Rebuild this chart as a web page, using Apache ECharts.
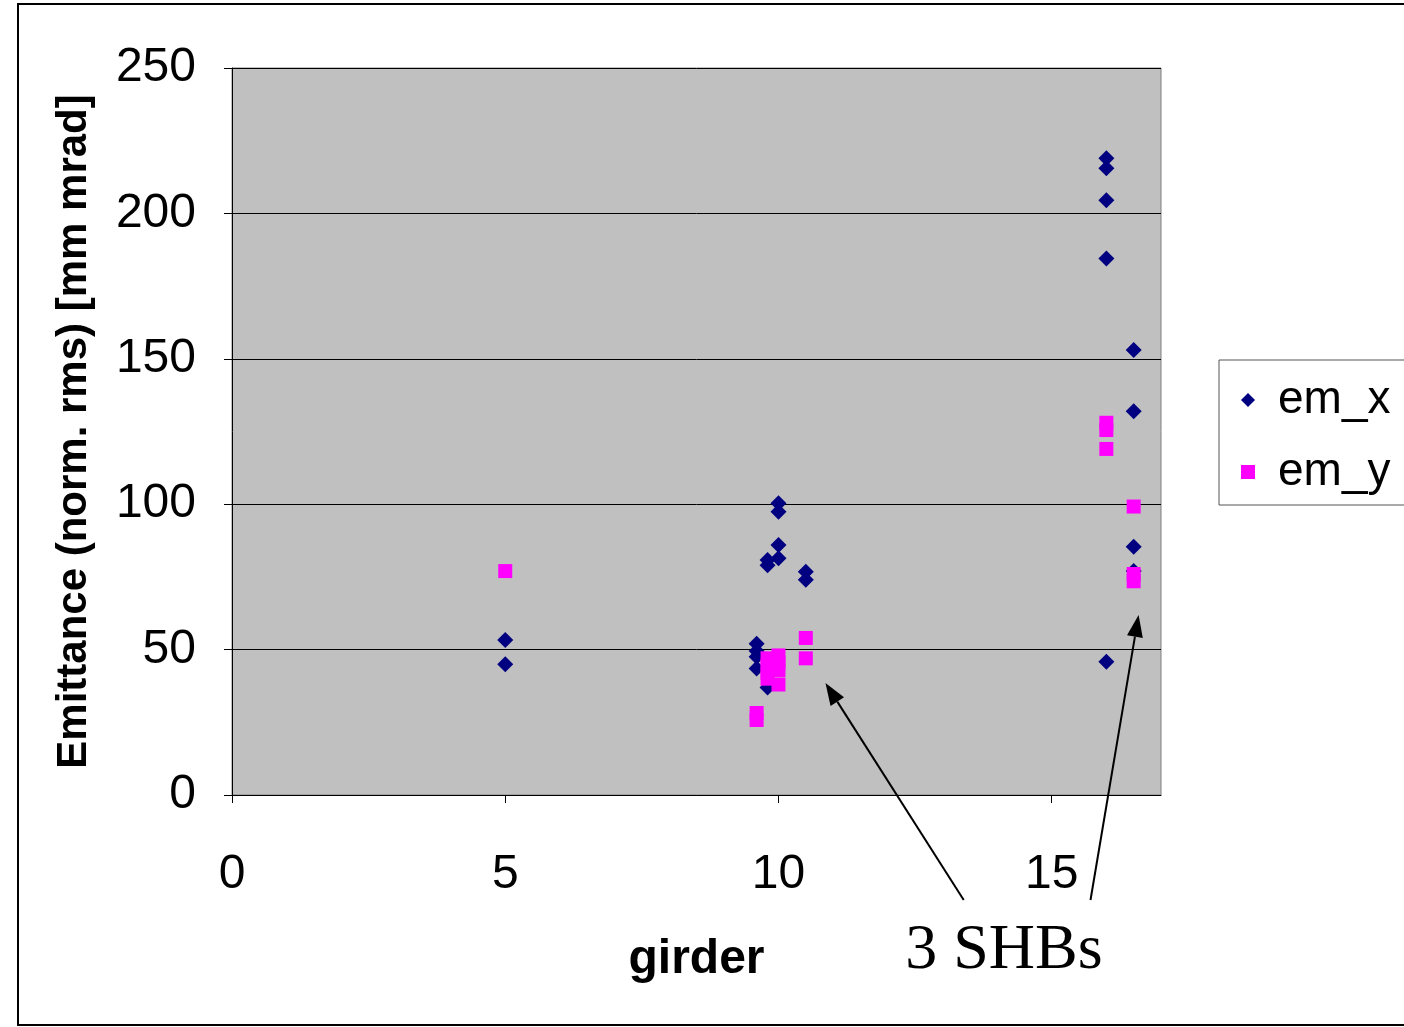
<!DOCTYPE html>
<html>
<head>
<meta charset="utf-8">
<script src="https://cdn.jsdelivr.net/npm/echarts@6/dist/echarts.min.js"></script>
<style>
html,body{margin:0;padding:0;background:#fff;}
#c{width:1404px;height:1027px;}
</style>
</head>
<body>
<div id="c"></div>
<script>
// Data
const emX = [
  [5, 53.3], [5, 45],
  [9.6, 52], [9.6, 49.5], [9.6, 47.5], [9.6, 43.5], [9.8, 37], [9.8, 80.8], [9.8, 79],
  [10, 100.3], [10, 97.4], [10, 86], [10, 81.4],
  [10.5, 76.8], [10.5, 74],
  [16, 219], [16, 215.5], [16, 204.5], [16, 184.5], [16, 45.8],
  [16.5, 153], [16.5, 132], [16.5, 85.4], [16.5, 77]
];
const emY = [
  [5, 77],
  [9.6, 28.2], [9.6, 25.8],
  [9.8, 47], [9.8, 44.5], [9.8, 42], [9.8, 40],
  [10, 48], [10, 45.5], [10, 43], [10, 38],
  [10.5, 54], [10.5, 47],
  [16, 128], [16, 125.5], [16, 119],
  [16.5, 99.2], [16.5, 76], [16.5, 73.5]
];
const xTickValues = [0, 5, 10, 15];
const xRange = {min: 0, max: 17, interval: 5};
const yRange = {min: 0, max: 250, interval: 50};
const annotationText = '3 SHBs';
// Arrow annotations in data coordinates: [start, tip]
const arrows = [
  [[13.39, -36.1], [10.86, 38.5]],
  [[15.71, -36.1], [16.59, 61.9]]
];

const chart = echarts.init(document.getElementById('c'), null, {renderer: 'canvas'});
const option = {
  animation: false,
  backgroundColor: '#fff',
  grid: {
    left: 232, top: 68, right: 243, bottom: 232,
    show: true, backgroundColor: '#c0c0c0', borderColor: '#808080', borderWidth: 1
  },
  legend: {
    orient: 'vertical',
    left: 1219, top: 360,
    padding: [15, 40, 8, 22],
    backgroundColor: '#fff',
    borderColor: '#555', borderWidth: 1,
    itemWidth: 14, itemHeight: 14,
    itemGap: 22,
    textStyle: {fontFamily: 'Liberation Sans', fontSize: 46, color: '#000', lineHeight: 50, padding: [0, 0, 0, 18]},
    data: ['em_x', 'em_y']
  },
  xAxis: {
    type: 'value', min: xRange.min, max: xRange.max, interval: xRange.interval,
    name: 'girder', nameLocation: 'middle', nameGap: 141,
    nameTextStyle: {fontFamily: 'Liberation Sans', fontWeight: 'bold', fontSize: 48, color: '#000'},
    axisLine: {show: true, onZero: false, lineStyle: {color: '#000', width: 1}},
    axisTick: {show: true, inside: false, length: 8, lineStyle: {color: '#000'}, customValues: xTickValues},
    axisLabel: {fontFamily: 'Liberation Sans', fontSize: 48, color: '#000', margin: 56, customValues: xTickValues},
    splitLine: {show: false}
  },
  yAxis: {
    type: 'value', min: yRange.min, max: yRange.max, interval: yRange.interval,
    name: 'Emittance (norm. rms) [mm mrad]', nameLocation: 'middle', nameGap: 137,
    nameTextStyle: {fontFamily: 'Liberation Sans', fontWeight: 'bold', fontSize: 42, color: '#000'},
    axisLine: {show: true, lineStyle: {color: '#000', width: 1}},
    axisTick: {show: true, inside: false, length: 8, lineStyle: {color: '#000'}},
    axisLabel: {fontFamily: 'Liberation Sans', fontSize: 48, color: '#000', margin: 36, padding: [9, 0, 0, 0]},
    splitLine: {show: true, lineStyle: {color: '#000', width: 1}}
  },
  series: [
    {name: 'em_x', type: 'scatter', symbol: 'diamond', symbolSize: 16,
     itemStyle: {color: '#000080', opacity: 1}, data: emX, z: 2},
    {name: 'em_y', type: 'scatter', symbol: 'rect', symbolSize: 14,
     itemStyle: {color: '#ff00ff', opacity: 1}, data: emY, z: 3}
  ]
};
chart.setOption(option);

// Annotations placed from data coordinates
const graphics = [
  {type: 'rect', shape: {x: 18, y: 4, width: 1400, height: 1021},
   style: {fill: null, stroke: '#000', lineWidth: 2}, z: 100, silent: true}
];
arrows.forEach(a => {
  const p0 = chart.convertToPixel({gridIndex: 0}, a[0]);
  const p1 = chart.convertToPixel({gridIndex: 0}, a[1]);
  const dx = p1[0] - p0[0], dy = p1[1] - p0[1];
  const len = Math.sqrt(dx * dx + dy * dy);
  const ux = dx / len, uy = dy / len;
  const hl = 22, hw = 8;
  const bx = p1[0] - ux * hl, by = p1[1] - uy * hl;
  graphics.push({type: 'line', shape: {x1: p0[0], y1: p0[1], x2: bx, y2: by},
    style: {stroke: '#000', lineWidth: 2}, z: 100});
  graphics.push({type: 'polygon', shape: {points: [
    [p1[0], p1[1]], [bx - uy * hw, by + ux * hw], [bx + uy * hw, by - ux * hw]]},
    style: {fill: '#000'}, z: 100});
});
const tp = chart.convertToPixel({gridIndex: 0}, [12.32, -53.8]);
graphics.push({type: 'text', x: tp[0], y: tp[1], style: {
  text: annotationText, font: '64px "Liberation Serif"', fill: '#000',
  textAlign: 'left', textVerticalAlign: 'middle'}, z: 100});
chart.setOption({graphic: graphics});
</script>
</body>
</html>
